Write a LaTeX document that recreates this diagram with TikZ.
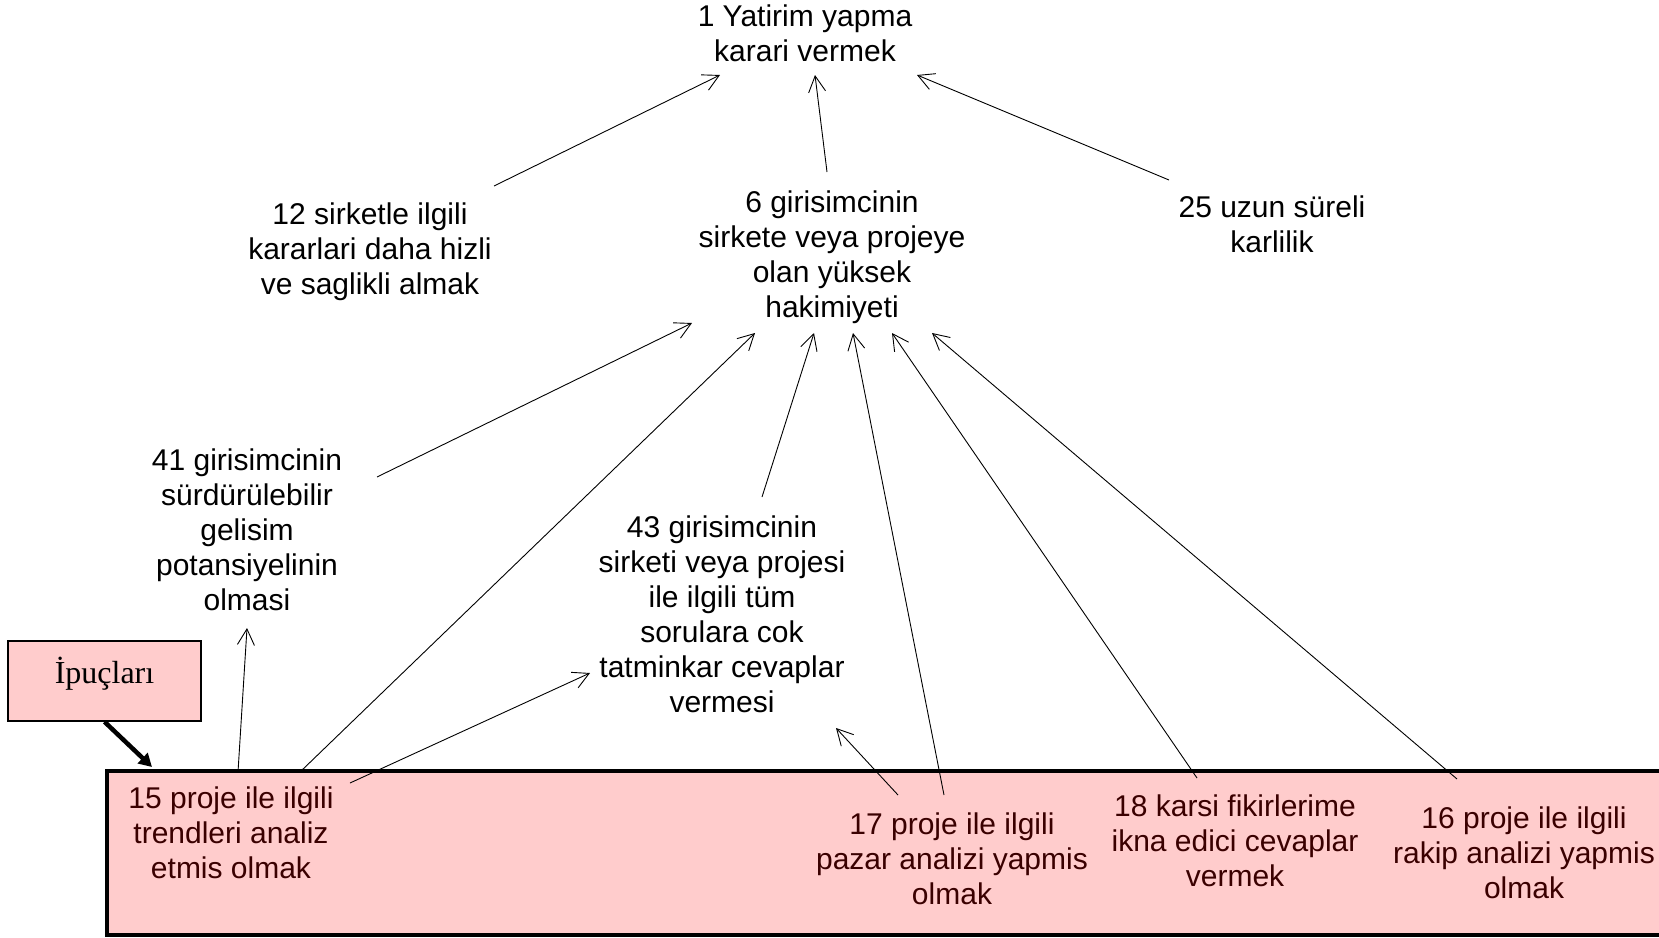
\documentclass[tikz,border=0pt]{standalone}
\usepackage{fontspec}
\setmainfont{Liberation Sans}
\newfontfamily\tmsfont{Liberation Serif}
\usetikzlibrary{arrows.meta}
\definecolor{boxpink}{HTML}{FFCCCC}
\definecolor{boxtext}{HTML}{3A0000}
\begin{document}
\begin{tikzpicture}[x=1pt,y=-1pt,
  lbl/.style={align=center, inner sep=0pt, font=\fontsize{30}{35}\selectfont},
  inlbl/.style={lbl, text=boxtext},
  thinarrow/.style={line width=0.9pt, -{Straight Barb[length=16pt,width=17pt,line width=0.9pt]}},
  hintbox/.style={draw, line width=1.5pt, fill=boxpink, minimum width=193pt, minimum height=80pt,
    inner sep=0pt, text height=20pt, text depth=16pt, font=\tmsfont\fontsize{32}{35}\selectfont},
  bigbox/.style={draw, line width=4pt, fill=boxpink, inner sep=0pt},
  hintarrow/.style={line width=4.5pt, -{Triangle[length=13pt,width=14pt]}}
]
\useasboundingbox (0,0) rectangle (1659,937);
\clip (0,0) rectangle (1659,937);

% container box (runs past the right edge)
\node[bigbox, minimum width=1590pt, minimum height=164pt, anchor=north west] (bb) at (105,769) {};

% labels
\node[lbl] (n1) at (805,33.5) {1 Yatirim yapma\\karari vermek};
\node[lbl] (n12) at (370,251.5) {12 sirketle ilgili\\kararlari daha hizli\\ve saglikli almak};
\node[lbl] (n6) at (832,257) {6 girisimcinin\\sirkete veya projeye\\olan yüksek\\hakimiyeti};
\node[lbl] (n25) at (1272,224.5) {25 uzun süreli\\karlilik};
\node[lbl] (n41) at (247,529.5) {41 girisimcinin\\sürdürülebilir\\gelisim\\potansiyelinin\\olmasi};
\node[lbl] (n43) at (722,614) {43 girisimcinin\\sirketi veya projesi\\ile ilgili tüm\\sorulara cok\\tatminkar cevaplar\\vermesi};
\node[inlbl] (n15) at (231,832.5) {15 proje ile ilgili\\trendleri analiz\\etmis olmak};
\node[inlbl] (n17) at (952,858.5) {17 proje ile ilgili\\pazar analizi yapmis\\olmak};
\node[inlbl] (n18) at (1235,840.5) {18 karsi fikirlerime\\ikna edici cevaplar\\vermek};
\node[inlbl] (n16) at (1524,853) {16 proje ile ilgili\\rakip analizi yapmis\\olmak};

\node[hintbox] (ip) at (104.5,681) {İpuçları};

% connector end points
\coordinate (s12a) at (494,186);   \coordinate (t1a) at (720,75);
\coordinate (s6a)  at (827,172);   \coordinate (t1b) at (815,75);
\coordinate (s25a) at (1169,180);  \coordinate (t1c) at (917,75);
\coordinate (s41a) at (377,477);   \coordinate (t6a) at (692,323);
\coordinate (s15a) at (300,772);   \coordinate (t6b) at (755,333);
\coordinate (s43a) at (762,497);   \coordinate (t6c) at (814,333);
\coordinate (s17a) at (944,795);   \coordinate (t6d) at (853,333);
\coordinate (s18a) at (1197,778);  \coordinate (t6e) at (892,333);
\coordinate (s16a) at (1457,779);  \coordinate (t6f) at (932,333);
\coordinate (s15b) at (238,772);   \coordinate (t41a) at (247,628);
\coordinate (s15c) at (350,783);   \coordinate (t43a) at (590,673);
\coordinate (s17b) at (898,795);   \coordinate (t43b) at (836,728);
\coordinate (tbb) at (152,767);

% connectors
\draw[thinarrow] (s12a) -- (t1a);
\draw[thinarrow] (s6a) -- (t1b);
\draw[thinarrow] (s25a) -- (t1c);
\draw[thinarrow] (s41a) -- (t6a);
\draw[thinarrow] (s15a) -- (t6b);
\draw[thinarrow] (s43a) -- (t6c);
\draw[thinarrow] (s17a) -- (t6d);
\draw[thinarrow] (s18a) -- (t6e);
\draw[thinarrow] (s16a) -- (t6f);
\draw[thinarrow] (s15b) -- (t41a);
\draw[thinarrow] (s15c) -- (t43a);
\draw[thinarrow] (s17b) -- (t43b);
\draw[hintarrow] (ip.south) -- (tbb);
\end{tikzpicture}
\end{document}
